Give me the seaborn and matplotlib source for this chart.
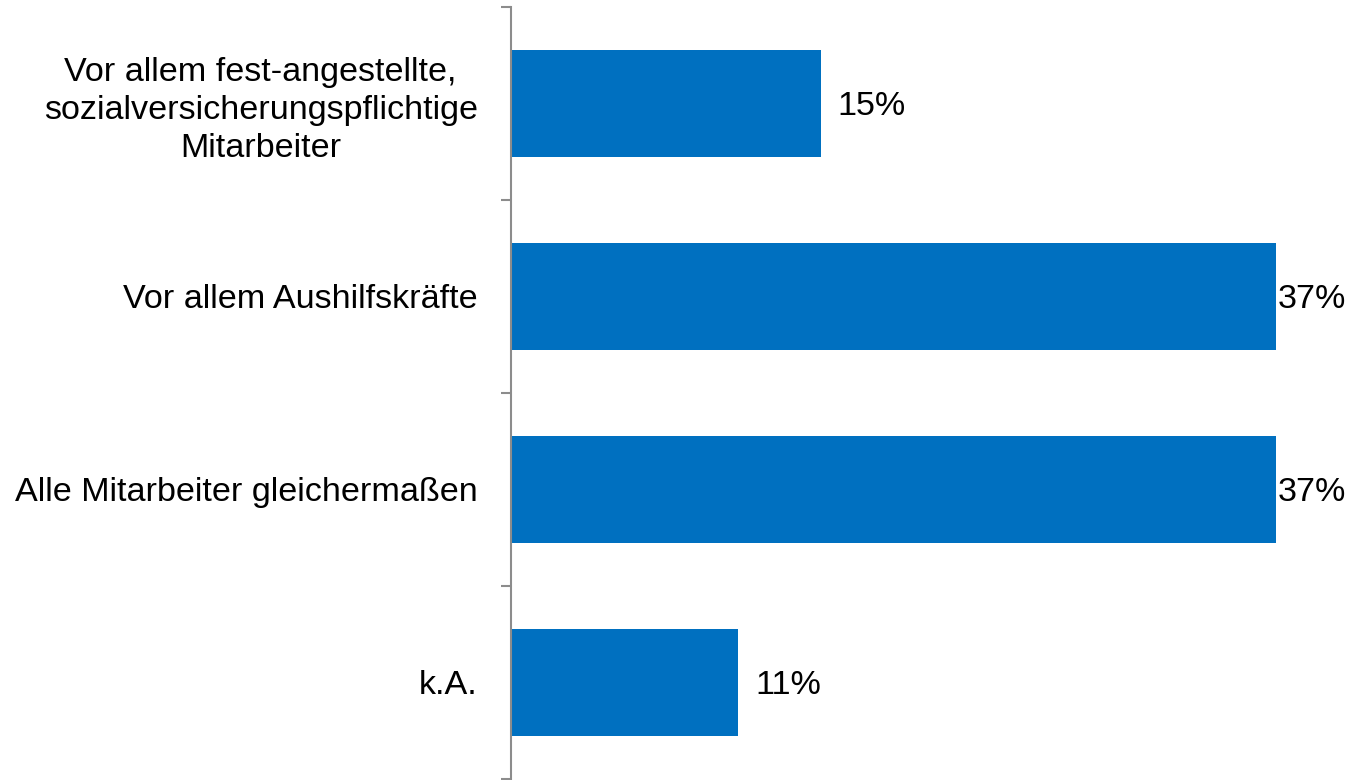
import matplotlib
matplotlib.use("Agg")
import matplotlib.pyplot as plt
import seaborn as sns
import pandas as pd
import numpy as np

categories = [
    "Vor allem fest-angestellte,\nsozialversicherungspflichtige\nMitarbeiter",
    "Vor allem Aushilfskräfte",
    "Alle Mitarbeiter gleichermaßen",
    "k.A.",
]
values = [15, 37, 37, 11]
value_labels = ["15%", "37%", "37%", "11%"]

sns.set_theme(style="white")
plt.rcParams["font.family"] = ["Liberation Sans", "DejaVu Sans"]

df = pd.DataFrame({"cat": categories, "val": values})

fig = plt.figure(figsize=(13.5, 7.8), dpi=100)
ax = fig.add_axes([511 / 1350, 1 - 779 / 780, (40 * 20.68) / 1350, (779 - 7) / 780])

sns.barplot(data=df, x="val", y="cat", orient="h", color="#0070C0",
            saturation=1, width=0.55, ax=ax, edgecolor="#0070C0", linewidth=0)

ax.set_xlim(0, 40)
ax.set_ylim(3.5, -0.5)
ax.set_xlabel("")
ax.set_ylabel("")
ax.set_xticks([])
for s in ["top", "right", "bottom"]:
    ax.spines[s].set_visible(False)
ax.spines["left"].set_color("#8c8c8c")
ax.spines["left"].set_linewidth(1.5)

fs = 24.6
ax.set_yticks(np.arange(len(categories)))
ax.set_yticklabels(categories, fontsize=fs, color="black", multialignment="center", linespacing=1.3)
ax.set_yticks(np.arange(-0.5, len(categories)), minor=True)
ax.tick_params(axis="y", which="major", length=0, pad=24)
ax.tick_params(axis="y", which="minor", length=7, width=1.5, color="#8c8c8c", left=True)

pads = [12, 1, 1, 12]
for i, (v, lab) in enumerate(zip(values, value_labels)):
    ax.annotate(lab, xy=(v, i), xytext=(pads[i], -2), textcoords="offset points",
                ha="left", va="center", fontsize=fs, color="black", annotation_clip=False)

fig.savefig("out.png", dpi=100)
